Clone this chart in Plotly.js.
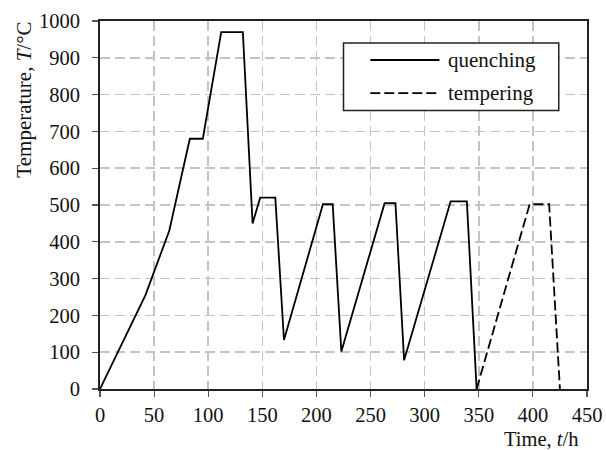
<!DOCTYPE html>
<html>
<head>
<meta charset="utf-8">
<script src="https://cdn.plot.ly/plotly-3.0.1.min.js"></script>
<style>html,body{margin:0;padding:0;background:#fff;}#chart{width:606px;height:450px;}</style>
</head>
<body>
<div id="chart"></div>
<script>
// Quenching cycle: time (h) and temperature (°C)
var quenchTime = [0, 42, 64, 83, 95, 112, 132, 141, 148, 162, 170, 206, 215, 223, 263, 273, 281, 324, 339, 348];
var quenchTemp = [0, 255, 430, 680, 680, 970, 970, 450, 520, 520, 133, 502, 502, 102, 505, 505, 78, 510, 510, 0];
// Tempering cycle
var temperTime = [348, 397, 415, 425];
var temperTemp = [0, 502, 502, 0];

var xTicks = [0, 50, 100, 150, 200, 250, 300, 350, 400, 450];
var yTicks = [0, 100, 200, 300, 400, 500, 600, 700, 800, 900, 1000];
var legendNames = ['quenching', 'tempering'];

var FONT = '"Liberation Serif", "Times New Roman", serif';

var traces = [
  {x: quenchTime, y: quenchTemp, mode: 'lines', name: legendNames[0],
   line: {color: '#000', width: 1.8}, showlegend: false},
  {x: temperTime, y: temperTemp, mode: 'lines', name: legendNames[1],
   line: {color: '#000', width: 1.8, dash: '10px,4px'}, showlegend: false}
];

var axisCommon = {
  showline: true, linecolor: '#222', linewidth: 2, mirror: true,
  ticks: 'outside', ticklen: 6, tickwidth: 1.2, tickcolor: '#555',
  showgrid: true, gridcolor: '#c4c4c4', gridwidth: 1.5, griddash: '10px,5px',
  zeroline: false,
  tickfont: {family: FONT, size: 20.5, color: '#111'}
};

// Legend box position (paper coords)
var lx0 = 0.5, lx1 = 0.942, ly0 = 0.757, ly1 = 0.94;
var shapes = [
  {type: 'rect', xref: 'paper', yref: 'paper', x0: lx0, x1: lx1, y0: ly0, y1: ly1,
   line: {color: '#222', width: 1.5}, fillcolor: '#fff', layer: 'above'},
  {type: 'line', xref: 'paper', yref: 'paper', x0: 0.555, x1: 0.697, y0: 0.894, y1: 0.894,
   line: {color: '#000', width: 1.8}, layer: 'above'},
  {type: 'line', xref: 'paper', yref: 'paper', x0: 0.555, x1: 0.697, y0: 0.804, y1: 0.804,
   line: {color: '#000', width: 1.8, dash: '10px,4px'}, layer: 'above'}
];

var annotations = [
  {xref: 'paper', yref: 'paper', x: 0.71, y: 0.894, xanchor: 'left', yanchor: 'middle',
   text: legendNames[0], showarrow: false, font: {family: FONT, size: 21, color: '#111'}},
  {xref: 'paper', yref: 'paper', x: 0.71, y: 0.804, xanchor: 'left', yanchor: 'middle',
   text: legendNames[1], showarrow: false, font: {family: FONT, size: 21, color: '#111'}},
  {xref: 'paper', yref: 'paper', x: 0.985, y: -0.136, xanchor: 'right', yanchor: 'middle',
   text: 'Time, <i>t</i>/h', showarrow: false, font: {family: FONT, size: 20.5, color: '#111'}},
  {xref: 'paper', yref: 'paper', x: -0.155, y: 0.785, xanchor: 'center', yanchor: 'middle',
   text: 'Temperature, <i>T</i>/°C', textangle: -90, showarrow: false,
   font: {family: FONT, size: 21, color: '#111'}}
];

var layout = {
  width: 606, height: 450,
  margin: {l: 100, r: 19, t: 21, b: 61},
  paper_bgcolor: '#fff', plot_bgcolor: '#fff',
  showlegend: false,
  font: {family: FONT},
  xaxis: Object.assign({}, axisCommon, {range: [0, 450], tickvals: xTicks, ticktext: xTicks.map(String), ticklabelstandoff: 0}),
  yaxis: Object.assign({}, axisCommon, {range: [0, 1000], tickvals: yTicks, ticktext: yTicks.map(String), ticklabelstandoff: 8}),
  shapes: shapes,
  annotations: annotations
};

Plotly.newPlot('chart', traces, layout, {staticPlot: true, displayModeBar: false});
</script>
</body>
</html>
